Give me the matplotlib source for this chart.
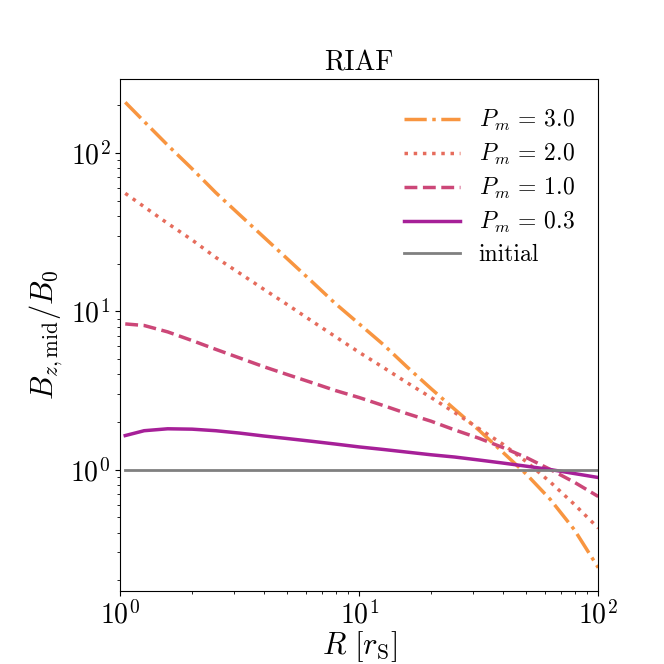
import matplotlib
matplotlib.use("Agg")
import matplotlib.pyplot as plt

plt.rcParams['mathtext.fontset'] = 'cm'
plt.rcParams['font.family'] = 'serif'
plt.rcParams['font.serif'] = ['cmr10', 'DejaVu Serif']
plt.rcParams['axes.formatter.use_mathtext'] = True

# radius in r_S
radius = [1.05, 1.26, 1.58, 2.0, 2.51, 3.16, 3.98, 5.01, 6.31, 7.94, 10.0,
          12.6, 15.8, 20.0, 25.1, 31.6, 39.8, 50.1, 63.1, 79.4, 100.0]

bz_pm30 = [209, 158, 112, 79.4, 56.2, 40.7, 29.5, 21.4, 15.5, 11.2, 8.32,
           6.17, 4.47, 3.24, 2.40, 1.78, 1.29, 0.933, 0.646, 0.417, 0.240]
bz_pm20 = [55.6, 45.7, 35.9, 28.2, 21.9, 17.4, 13.8, 11.0, 8.71, 6.92, 5.50,
           4.42, 3.55, 2.85, 2.29, 1.82, 1.45, 1.12, 0.832, 0.603, 0.427]
bz_pm10 = [8.32, 8.13, 7.41, 6.53, 5.75, 5.07, 4.47, 3.98, 3.55, 3.16, 2.85,
           2.54, 2.26, 2.02, 1.78, 1.58, 1.38, 1.19, 1.0, 0.832, 0.676]
bz_pm03 = [1.64, 1.76, 1.81, 1.80, 1.76, 1.70, 1.63, 1.57, 1.51, 1.45, 1.39,
           1.34, 1.29, 1.24, 1.20, 1.15, 1.10, 1.05, 1.0, 0.944, 0.891]
bz_init = [1.0] * len(radius)

fig = plt.figure(figsize=(6.64, 6.64), dpi=100)
ax = fig.add_axes([0.181, 0.110, 0.720, 0.771])

ax.plot(radius, bz_pm30, ls='-.', lw=2.5, color='#F89540', label=r'$P_m\,=\,3.0$')
ax.plot(radius, bz_pm20, ls=':', lw=2.5, color='#E66C5C', label=r'$P_m\,=\,2.0$')
ax.plot(radius, bz_pm10, ls='--', lw=2.5, color='#CC4778', label=r'$P_m\,=\,1.0$')
ax.plot(radius, bz_pm03, ls='-', lw=2.5, color='#A62098', label=r'$P_m\,=\,0.3$')
ax.plot(radius, bz_init, ls='-', lw=2, color='grey', label='initial')

ax.set_xscale('log')
ax.set_yscale('log')
ax.set_xlim(1, 100)

ax.set_xlabel(r'$R\ [r_\mathrm{S}]$', fontsize=22, labelpad=0)
ax.set_ylabel(r'$B_{z,\mathrm{mid}}/B_0$', fontsize=22)
ax.set_title('RIAF', fontsize=20)
ax.tick_params(labelsize=20)
ax.legend(frameon=False, fontsize=17, loc='upper right', handlelength=2.35,
          labelspacing=0.38, borderaxespad=0.5, bbox_to_anchor=(0.995, 0.985))

plt.savefig("out.png")
